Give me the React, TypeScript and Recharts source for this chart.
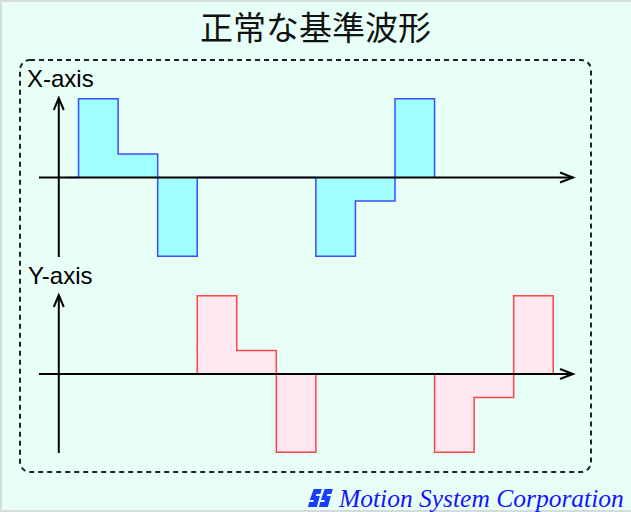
import React from 'react';
import { ComposedChart, Area, XAxis, YAxis, ReferenceLine } from 'recharts';

// reference waveforms: one step per time unit, held until the next point
const xTimes = [-0.25, 0, 1, 2, 3, 6, 7, 8, 9];
const xValues = [0, 100, 30, -100, 0, -100, -30, 100, 0];
const yTimes = [-0.25, 3, 4, 5, 6, 9, 10, 11, 12];
const yValues = [0, 100, 30, -100, 0, -100, -30, 100, 0];

const TIME_DOMAIN = [-1, 12.5];
const VALUE_DOMAIN = [-101, 101];
const AXIS_AT = -0.5;

const BG = '#e8fff8';

const xData = xTimes.map((t, i) => ({ t, v: xValues[i] }));
const yData = yTimes.map((t, i) => ({ t, v: yValues[i] }));

const HArrow = (p: any) => {
    const { x1, x2, y1 } = p;
    const right = Math.max(x1, x2);
    const left = Math.min(x1, x2);
    return (
        <g>
            <line x1={left} y1={y1} x2={right} y2={y1} stroke="#000" strokeWidth={2} />
            <path d={`M${right - 13},${y1 - 5} L${right},${y1} L${right - 13},${y1 + 5}`} fill="none" stroke="#000" strokeWidth={2} />
        </g>
    );
};

const VArrow = (p: any) => {
    const { x1, y1, y2 } = p;
    const top = Math.min(y1, y2);
    const bottom = Math.max(y1, y2);
    return (
        <g>
            <line x1={x1} y1={top} x2={x1} y2={bottom} stroke="#000" strokeWidth={2} />
            <path d={`M${x1 - 5},${top + 12} L${x1},${top} L${x1 + 5},${top + 12}`} fill="none" stroke="#000" strokeWidth={2} />
        </g>
    );
};

const Wave = ({ data, top, bottom, fill, stroke }: any) => (
    <div style={{ position: 'absolute', left: 0, top: 0 }}>
        <ComposedChart width={631} height={512} data={data}
            margin={{ top, bottom: 512 - bottom, left: 39, right: 58 }}>
            <XAxis type="number" dataKey="t" domain={TIME_DOMAIN} hide allowDataOverflow />
            <YAxis type="number" domain={VALUE_DOMAIN} hide allowDataOverflow />
            <Area type="stepAfter" dataKey="v" baseValue={0} stroke={stroke} strokeWidth={1.5}
                fill={fill} fillOpacity={1} dot={false} activeDot={false} isAnimationActive={false} />
            <ReferenceLine y={0} shape={HArrow} />
            <ReferenceLine x={AXIS_AT} shape={VArrow} />
        </ComposedChart>
    </div>
);

const App: React.FC = () => {
    return (
        <div style={{
            position: 'absolute', left: 0, top: 0, width: 631, height: 512, background: BG,
            overflow: 'hidden',
            boxShadow: 'inset 2px 2px 0 #d3dbdb, inset 0 -2px 0 #d3dbdb',
        }}>
            <div style={{ position: 'absolute', left: 0, top: 4, width: 631, textAlign: 'center', fontFamily: '"Noto Sans CJK JP", sans-serif', fontSize: 33, lineHeight: '44px', color: '#111' }}>
                正常な基準波形
            </div>

            <svg width={631} height={512} style={{ position: 'absolute', left: 0, top: 0 }}>
                <rect x={20} y={60} width={571} height={412} rx={10} ry={10} fill="none" stroke="#222" strokeWidth={2} strokeDasharray="5 4" />
            </svg>

            <div style={{ position: 'absolute', left: 27, top: 64, fontFamily: '"Liberation Sans", Arial, sans-serif', fontSize: 24, lineHeight: '30px', color: '#000' }}>X-axis</div>
            <div style={{ position: 'absolute', left: 28, top: 261, fontFamily: '"Liberation Sans", Arial, sans-serif', fontSize: 24, lineHeight: '30px', color: '#000' }}>Y-axis</div>

            <Wave data={xData} top={98} bottom={257} fill="#a0ffff" stroke="#3a4cff" />
            <Wave data={yData} top={295} bottom={453} fill="#ffe8ef" stroke="#ff4545" />

            {/* company mark */}
            <svg width={30} height={20} style={{ position: 'absolute', left: 305, top: 488 }}>
                <g fill="#1a3cff" transform="skewX(-15)">
                    <path d="M9,1 h8 v5 h-4 v2 h4 v11 h-9 v-5 h4 v-2 h-4 z" />
                    <path d="M20,1 h8 v5 h-4 v2 h4 v11 h-9 v-5 h4 v-2 h-4 z" />
                </g>
            </svg>
            <div style={{ position: 'absolute', left: 339, top: 484, fontFamily: '"Liberation Serif", "Times New Roman", serif', fontStyle: 'italic', fontSize: 25.5, lineHeight: '30px', color: '#1414ff', whiteSpace: 'nowrap' }}>
                Motion System Corporation
            </div>
        </div>
    );
};

export default App;
